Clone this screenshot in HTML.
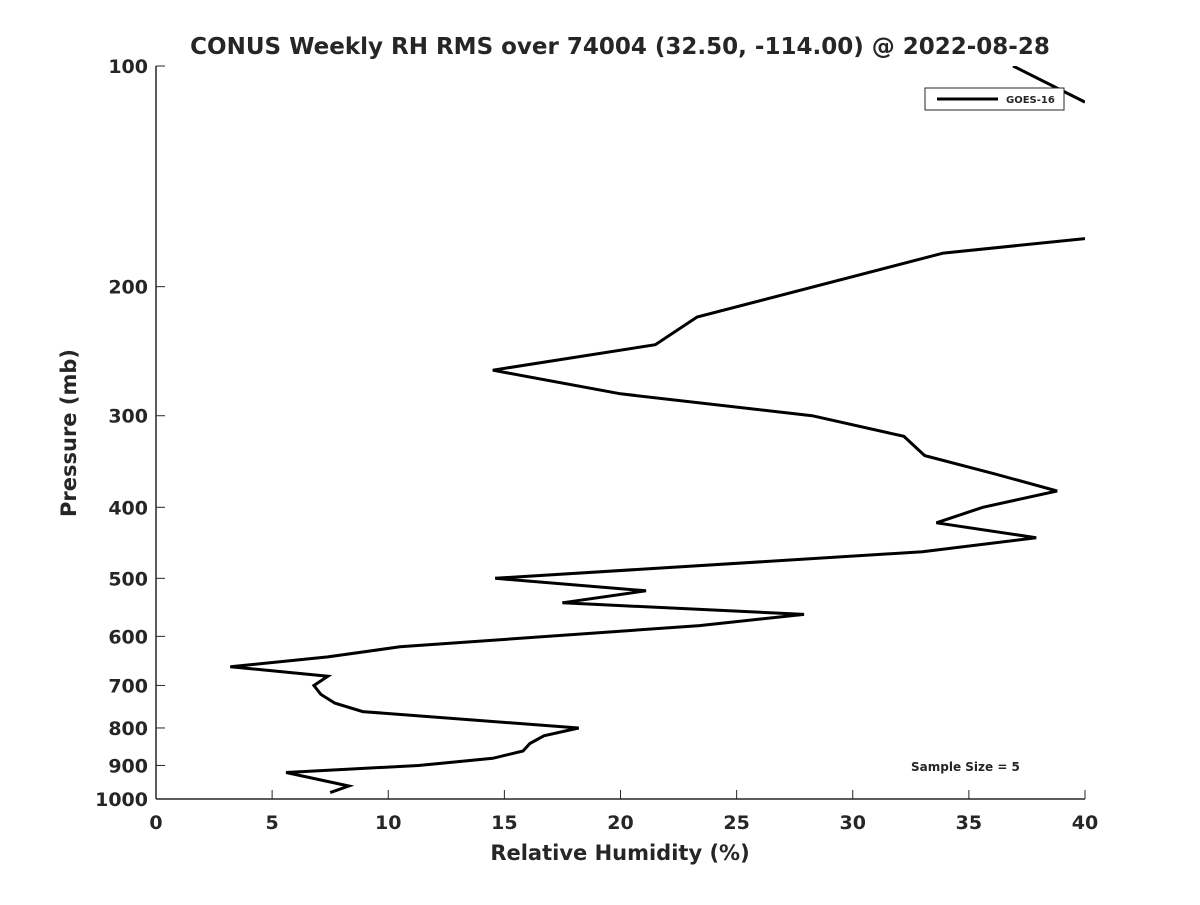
<!DOCTYPE html>
<html><head><meta charset="utf-8"><style>
body{margin:0;background:#fff;font-family:"Liberation Sans","DejaVu Sans",sans-serif}
text{font-family:"DejaVu Sans","Liberation Sans",sans-serif;font-weight:bold;fill:#262626}
</style></head><body>
<svg id="chart" width="1200" height="900">
<defs><clipPath id="clip"><rect x="156" y="66" width="929" height="733"/></clipPath></defs>
<rect width="1200" height="900" fill="#fff"/>
<text x="620" y="54" font-size="23" text-anchor="middle">CONUS Weekly RH RMS over 74004 (32.50, -114.00) @ 2022-08-28</text>
<g id="axes"></g>
<path id="series" fill="none" stroke="#000" stroke-width="3" stroke-linejoin="miter" clip-path="url(#clip)"/>
<g>
<rect x="925" y="88" width="139" height="22" fill="#fff" stroke="#262626" stroke-width="1"/>
<line x1="937" y1="99" x2="998" y2="99" stroke="#000" stroke-width="3"/>
<text x="1006" y="103" font-size="10">GOES-16</text>
</g>
<text x="911" y="771" font-size="12">Sample Size = 5</text>
<text x="620" y="860" font-size="21" text-anchor="middle">Relative Humidity (%)</text>
<text transform="translate(76,433) rotate(-90)" font-size="21" text-anchor="middle">Pressure (mb)</text>
</svg>
<script>
const pressures=[100,112,null,172,180,220,240,260,280,300,320,340,360,380,400,420,440,460,500,520,540,560,580,620,640,660,680,700,720,740,760,800,820,840,860,880,900,920,960,980];
const rhValues=[36.9,40.0,null,40.0,33.9,23.3,21.5,14.5,20.0,28.25,32.2,33.1,36.1,38.8,35.6,33.6,37.9,33.0,14.6,21.1,17.5,27.9,23.4,10.5,7.4,3.2,7.4,6.8,7.1,7.7,8.9,18.2,16.7,16.1,15.8,14.5,11.3,5.6,8.3,7.5];
const xTicks=[0,5,10,15,20,25,30,35,40];
const yTicks=[100,200,300,400,500,600,700,800,900,1000];
const X0=156,X1=1085,Y0=66,Y1=799;
const xs=v=>X0+(v-0)/40*(X1-X0);
const ys=p=>Y0+(Math.log10(p)-2)*(Y1-Y0);
const NS='http://www.w3.org/2000/svg';
const ax=document.getElementById('axes');
function mk(t,a){const e=document.createElementNS(NS,t);for(const k in a)e.setAttribute(k,a[k]);ax.appendChild(e);return e;}
let l=mk('line',{x1:X0,y1:Y1,x2:X1,y2:Y1,stroke:'#262626','stroke-width':1.5});


l=mk('line',{x1:X0,y1:Y0,x2:X0,y2:Y1,stroke:'#262626','stroke-width':1.5});


xTicks.forEach(v=>{const x=xs(v);
const t=mk('line',{x1:x,y1:Y1,x2:x,y2:Y1-9,stroke:'#262626','stroke-width':1});


const tx=mk('text',{x:x,y:829,'font-size':19,'text-anchor':'middle'});tx.textContent=v;

});
yTicks.forEach(p=>{const y=ys(p);
const t=mk('line',{x1:X0,y1:y,x2:X0+9,y2:y,stroke:'#262626','stroke-width':1});


const tx=mk('text',{x:148,y:y+7,'font-size':19,'text-anchor':'end'});tx.textContent=p;

});
let d='',pen=false;
for(let i=0;i<pressures.length;i++){
 if(pressures[i]===null||rhValues[i]===null){pen=false;continue;}
 d+=(pen?'L':'M')+xs(rhValues[i]).toFixed(1)+' '+ys(pressures[i]).toFixed(1)+' ';pen=true;}
document.getElementById('series').setAttribute('d',d);
</script>
</body></html>
